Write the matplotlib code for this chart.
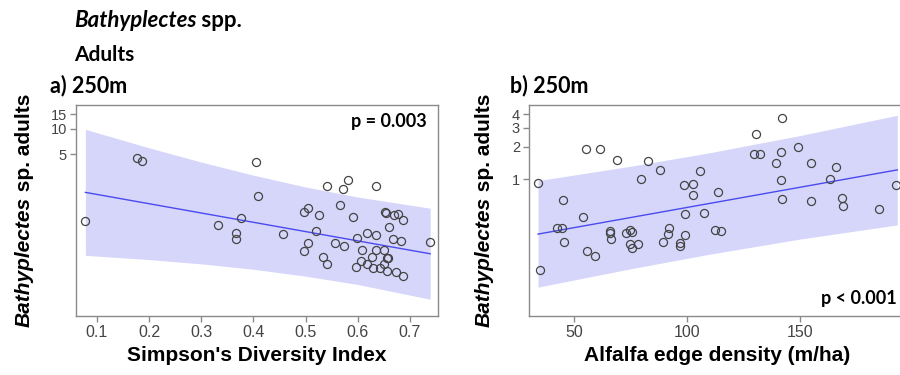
import matplotlib
matplotlib.use("Agg")
import matplotlib.pyplot as plt
from matplotlib.ticker import FixedLocator, NullLocator, FixedFormatter


# panel a: Simpson's diversity index (250m)
simpson = [0.078, 0.177, 0.187, 0.406, 0.409, 0.333, 0.377, 0.366, 0.367, 0.457,
           0.497, 0.505, 0.525, 0.541, 0.572, 0.582, 0.567, 0.591, 0.635, 0.521,
           0.505, 0.497, 0.534, 0.542, 0.557, 0.574, 0.599, 0.618, 0.636, 0.608,
           0.597, 0.607, 0.617, 0.628, 0.636, 0.650, 0.630, 0.643, 0.650, 0.656,
           0.659, 0.657, 0.653, 0.654, 0.669, 0.678, 0.686, 0.660, 0.667, 0.684,
           0.674, 0.686, 0.739]
adults_a = [0.80, 4.48, 4.16, 4.02, 1.59, 0.71, 0.86, 0.58, 0.49, 0.56,
            1.02, 1.16, 0.95, 2.12, 1.91, 2.45, 1.24, 0.90, 2.12, 0.61,
            0.44, 0.355, 0.298, 0.245, 0.436, 0.407, 0.51, 0.58, 0.54, 0.363,
            0.23, 0.266, 0.25, 0.302, 0.36, 0.358, 0.22, 0.224, 0.247, 0.289,
            0.289, 0.204, 1.02, 1.00, 0.94, 0.97, 0.83, 0.68, 0.49, 0.47,
            0.197, 0.177, 0.45]
fit_a_x = [0.078, 0.739]
fit_a_y = [1.76, 0.327]
band_a_x = [0.078, 0.2, 0.3, 0.4, 0.5, 0.6, 0.739]
band_a_lo = [0.313, 0.279, 0.248, 0.214, 0.177, 0.141, 0.094]
band_a_hi = [9.9, 5.97, 4.04, 2.82, 2.04, 1.55, 1.14]

# panel b: alfalfa edge density (250m)
edge = [33.9, 34.8, 45.1, 45.5, 42.5, 44.3, 53.6, 55.2, 55.5, 59.0,
        61.5, 65.7, 65.7, 66.1, 68.9, 72.8, 74.6, 75.5, 74.6, 75.4,
        78.2, 79.7, 82.4, 88.1, 89.4, 91.5, 92.1, 96.6, 96.6, 99.1,
        99.1, 98.5, 102.5, 102.5, 105.8, 107.5, 112.2, 115.1, 113.7, 130.4,
        129.6, 132.3, 139.4, 141.4, 141.9, 141.5, 141.8, 149.1, 154.7, 154.7,
        163.4, 165.8, 168.7, 168.8, 184.9, 192.5]
adults_b = [0.93, 0.145, 0.64, 0.261, 0.354, 0.354, 0.448, 1.90, 0.216, 0.196,
            1.90, 0.334, 0.320, 0.282, 1.52, 0.316, 0.341, 0.325, 0.253, 0.228,
            0.25, 1.0, 1.48, 1.21, 0.261, 0.312, 0.354, 0.255, 0.238, 0.307,
            0.474, 0.885, 0.905, 0.716, 1.19, 0.49, 0.337, 0.332, 0.763, 2.64,
            1.72, 1.70, 1.42, 1.79, 3.70, 0.98, 0.653, 1.99, 1.42, 0.63,
            1.01, 1.30, 0.676, 0.57, 0.535, 0.89]
fit_b_x = [33.9, 193.0]
fit_b_y = [0.31, 1.22]
band_b_x = [33.9, 75, 110, 150, 193]
band_b_lo = [0.10, 0.148, 0.202, 0.279, 0.377]
band_b_hi = [0.97, 1.32, 1.76, 2.54, 3.91]

xticks_a = [0.1, 0.2, 0.3, 0.4, 0.5, 0.6, 0.7]
yticks_a = [5, 10, 15]
xticks_b = [50, 100, 150]
yticks_b = [1, 2, 3, 4]

band_col = "#d6d6fb"
line_col = "#4a4aee"
grey = "#8a8a8a"
head_font = ["Lato", "DejaVu Sans"]
axis_font = ["Liberation Sans", "DejaVu Sans"]

W, H = 900, 375
fig = plt.figure(figsize=(9, 3.75), dpi=100)
ax_a = fig.add_axes([76 / W, 59 / H, 362 / W, 211 / H])
ax_b = fig.add_axes([529 / W, 59 / H, 376 / W, 211 / H])


def style_axes(ax, xt, yt, xlim, ylim):
    ax.set_yscale("log")
    ax.set_xlim(*xlim)
    ax.set_ylim(*ylim)
    ax.xaxis.set_major_locator(FixedLocator(xt))
    ax.xaxis.set_major_formatter(FixedFormatter([f"{v:g}" for v in xt]))
    ax.yaxis.set_major_locator(FixedLocator(yt))
    ax.yaxis.set_major_formatter(FixedFormatter([f"{v:g}" for v in yt]))
    ax.yaxis.set_minor_locator(NullLocator())
    for s in ax.spines.values():
        s.set_color(grey)
        s.set_linewidth(1.0)
    ax.tick_params(axis="both", colors=grey, length=4.5, width=1.0, pad=2)
    for lab in ax.get_xticklabels():
        lab.set_color("#444444")
        lab.set_fontsize(11.5)
        lab.set_family(axis_font)
    for lab in ax.get_yticklabels():
        lab.set_color("#444444")
        lab.set_fontsize(10.5)
        lab.set_family(axis_font)


# panel a
ax_a.fill_between(band_a_x, band_a_lo, band_a_hi, color=band_col, lw=0)
ax_a.plot(fit_a_x, fit_a_y, color=line_col, lw=1.0)
ax_a.plot(simpson, adults_a, "o", mfc="none", mec="#444444", ms=5.8, mew=0.9)
style_axes(ax_a, xticks_a, yticks_a, (0.060, 0.754), (0.0594, 19.3))
ax_a.text(0.97, 0.92, "p = 0.003", transform=ax_a.transAxes, ha="right", va="center",
          fontsize=13, fontweight="bold", family=head_font)
ax_a.set_xlabel("Simpson's Diversity Index", fontsize=15, fontweight="bold",
                family=axis_font, labelpad=4)

# panel b
ax_b.fill_between(band_b_x, band_b_lo, band_b_hi, color=band_col, lw=0)
ax_b.plot(fit_b_x, fit_b_y, color=line_col, lw=1.0)
ax_b.plot(edge, adults_b, "o", mfc="none", mec="#444444", ms=5.8, mew=0.9)
style_axes(ax_b, xticks_b, yticks_b, (29.9, 196.4), (0.054, 4.87))
ax_b.text(368 / 376, 0.085, "p < 0.001", transform=ax_b.transAxes, ha="right",
          va="center", fontsize=13, fontweight="bold", family=head_font)
ax_b.set_xlabel("Alfalfa edge density (m/ha)", fontsize=15, fontweight="bold",
                family=axis_font, labelpad=4)

fig.canvas.draw()
rend = fig.canvas.get_renderer()


def two_part(x, y, first, second, size, fam, rot=0):
    # italic genus name followed by upright text, baselines shared
    kw = dict(fontsize=size, fontweight="bold", family=fam, rotation=rot,
              rotation_mode="anchor", ha="left", va="baseline")
    t1 = fig.text(x / W, 1 - y / H, first, fontstyle="italic", **kw)
    bb = t1.get_window_extent(rend)
    if rot == 0:
        fig.text(bb.x1 / W, 1 - y / H, second, **kw)
    else:
        fig.text(x / W, bb.y1 / H, second, **kw)


two_part(74, 27, "Bathyplectes", " spp.", 16, head_font)
fig.text(74 / W, 1 - 61 / H, "Adults", fontsize=15, fontweight="bold",
         family=head_font, va="baseline")
fig.text(50 / W, 1 - 92 / H, "a) 250m", fontsize=15.5, fontweight="bold",
         family=head_font, va="baseline")
fig.text(510 / W, 1 - 92 / H, "b) 250m", fontsize=15.5, fontweight="bold",
         family=head_font, va="baseline")

two_part(30, 327, "Bathyplectes", " sp. adults", 15, axis_font, rot=90)
two_part(490, 327, "Bathyplectes", " sp. adults", 15, axis_font, rot=90)

fig.savefig("out.png", dpi=100)
